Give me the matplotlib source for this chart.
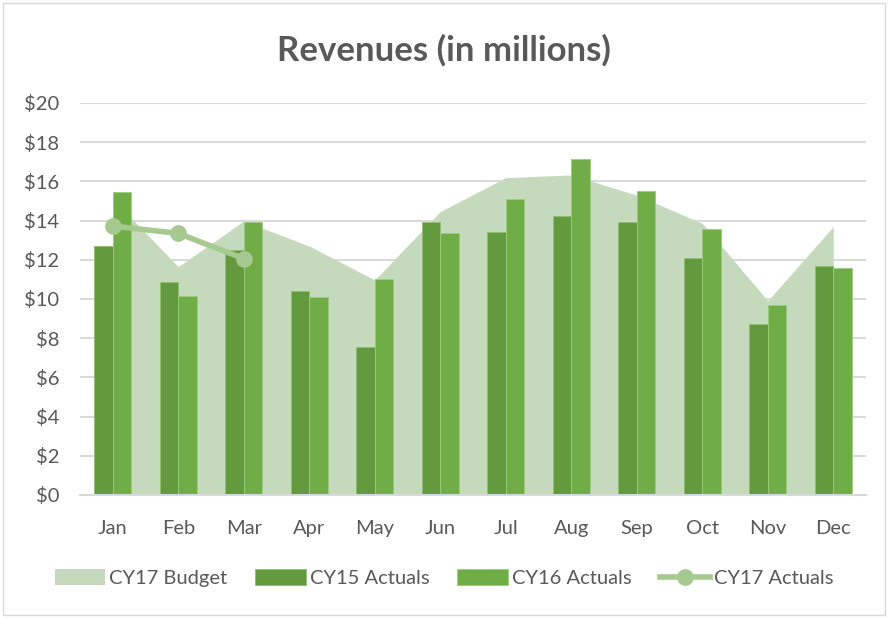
import matplotlib
matplotlib.use("Agg")
import matplotlib.pyplot as plt
import numpy as np
from matplotlib.patches import Rectangle
from matplotlib.ticker import FuncFormatter

months = ["Jan", "Feb", "Mar", "Apr", "May", "Jun", "Jul", "Aug", "Sep", "Oct", "Nov", "Dec"]
cy17_budget = [15.1, 11.65, 13.98, 12.7, 10.97, 14.46, 16.19, 16.33, 15.3, 13.86, 9.91, 13.69]
cy15_actuals = [12.70, 10.88, 12.5, 10.41, 7.55, 13.95, 13.4, 14.25, 13.91, 12.09, 8.72, 11.67]
cy16_actuals = [15.44, 10.15, 13.95, 10.12, 11.0, 13.37, 15.08, 17.14, 15.53, 13.57, 9.68, 11.57]
cy17_actuals = [13.72, 13.35, 12.06]
yticks = [0, 2, 4, 6, 8, 10, 12, 14, 16, 18, 20]

plt.rcParams['font.family'] = ['Lato', 'DejaVu Sans']

fig = plt.figure(figsize=(8.88, 6.18), dpi=100)
ax = fig.add_axes([80/888, 1-495/618, (866-80)/888, (495-103)/618])

x = np.arange(len(months))
h_budget = ax.fill_between(x, cy17_budget, 0, color="#C5D9BC", lw=0, zorder=1, label="CY17 Budget")
w = 0.28
h15 = ax.bar(x - w/2, cy15_actuals, width=w, color="#629A3D", edgecolor="#8FBF72", linewidth=0.6, zorder=2, label="CY15 Actuals")
h16 = ax.bar(x + w/2, cy16_actuals, width=w, color="#70AD47", edgecolor="#9CCB7E", linewidth=0.6, zorder=2, label="CY16 Actuals")
h17, = ax.plot(x[:len(cy17_actuals)], cy17_actuals, color="#A6C98F", lw=4, marker="o", markersize=11,
               zorder=3, label="CY17 Actuals")

ax.set_xlim(-0.5, 11.5)
ax.set_ylim(0, 20)
ax.set_yticks(yticks)
ax.yaxis.set_major_formatter(FuncFormatter(lambda v, p: f"${int(v)}"))
ax.set_xticks(x)
ax.set_xticklabels(months)
ax.grid(axis="y", color="#D9D9D9", lw=1.5, zorder=0)
ax.set_axisbelow(True)
for s in ["top", "right", "left"]:
    ax.spines[s].set_visible(False)
ax.spines["bottom"].set_color("#D9D9D9")
ax.spines["bottom"].set_linewidth(1.5)
ax.tick_params(axis="both", length=0, labelsize=14.5, colors="#595959")
ax.tick_params(axis="x", pad=18)
ax.tick_params(axis="y", pad=15)

fig.text(0.5, 1-50/618, "Revenues (in millions)", ha="center", va="center",
         fontsize=25, fontweight="bold", color="#595959")

handles = [h_budget, h15, h16, h17]
labels = [h.get_label() for h in handles]
leg = fig.legend(handles, labels, loc="center", bbox_to_anchor=(0.5, 1-578/618), ncol=4,
                 frameon=False, fontsize=14.5, handlelength=2.5, handleheight=0.8,
                 columnspacing=1.4, handletextpad=0.2)
for t in leg.get_texts():
    t.set_color("#595959")

fig.patches.append(Rectangle((3/888, 3/618), 882/888, 612/618, transform=fig.transFigure,
                             fill=False, edgecolor="#D9D9D9", lw=1))

fig.savefig("out.png", dpi=100, facecolor="white")
